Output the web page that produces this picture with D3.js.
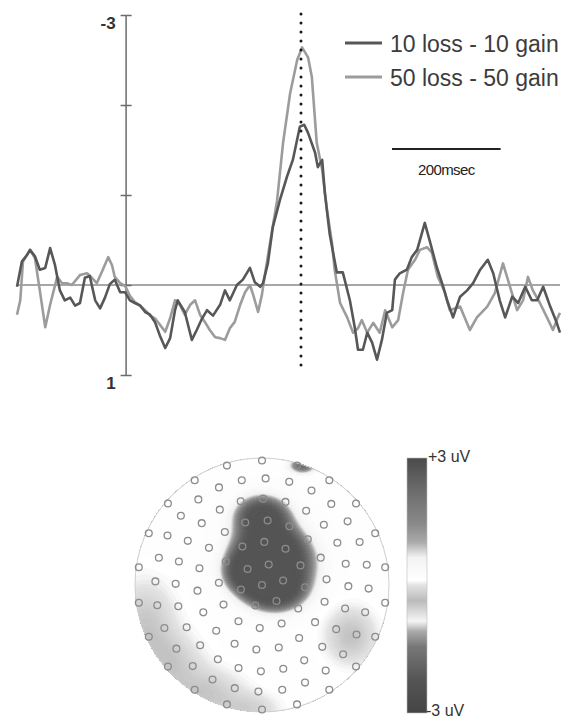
<!DOCTYPE html>
<html>
<head>
<meta charset="utf-8">
<script src="https://cdn.jsdelivr.net/npm/d3@7"></script>
<style>
  body { margin: 0; background: #fff; }
  svg { display: block; font-family: "Liberation Sans", Arial, sans-serif; }
</style>
</head>
<body>
<svg id="chart" width="581" height="720"></svg>
<script>
// ERP difference waves, [time ms, amplitude uV] (negative up)
var wave10 = [[-200,0.02],[-191,-0.26],[-182,-0.33],[-176,-0.39],[-167,-0.32],[-158,-0.17],[-148,-0.19],[-139,-0.41],[-130,-0.22],[-121,0.06],[-112,0.17],[-102,0.14],[-93,0.23],[-84,0.2],[-75,-0.08],[-66,-0.1],[-56,0.17],[-47,0.26],[-38,0.14],[-29,-0.01],[-20,-0.06],[-10,0.08],[-1,0.08],[8,0.17],[17,0.2],[27,0.23],[36,0.3],[45,0.33],[54,0.41],[63,0.56],[73,0.7],[82,0.59],[91,0.28],[96,0.17],[109,0.3],[122,0.61],[131,0.5],[141,0.37],[150,0.28],[161,0.34],[174,0.22],[183,0.06],[192,0.17],[205,0],[216,-0.06],[229,-0.19],[238,-0.03],[248,0.02],[253,-0.02],[262,-0.24],[271,-0.64],[284,-0.94],[297,-1.2],[308,-1.39],[321,-1.76],[329,-1.78],[336,-1.69],[349,-1.47],[354,-1.31],[362,-1.39],[367,-1.02],[376,-0.56],[389,-0.14],[400,-0.14],[413,0.17],[422,0.47],[428,0.72],[437,0.72],[445,0.53],[454,0.64],[463,0.83],[472,0.61],[481,0.31],[491,0.28],[496,-0.06],[505,-0.13],[518,-0.17],[527,-0.31],[537,-0.39],[551,-0.69],[561,-0.47],[573,-0.2],[585,0.02],[592,0.17],[603,0.36],[616,0.13],[629,0.06],[640,-0.02],[653,-0.17],[667,-0.28],[677,-0.13],[689,0.17],[699,0.36],[712,0.13],[723,0.2],[736,0.02],[748,0.17],[758,0.17],[769,0.02],[782,0.24],[794,0.42],[800,0.53]];
var wave50 = [[-200,0.33],[-194,0.17],[-189,-0.26],[-182,-0.33],[-176,-0.39],[-167,-0.3],[-158,0.06],[-148,0.47],[-139,0.22],[-126,-0.09],[-117,-0.02],[-108,-0.02],[-99,0],[-84,-0.11],[-71,-0.13],[-62,-0.08],[-53,-0.02],[-42,-0.17],[-32,-0.31],[-25,-0.22],[-20,-0.09],[-10,-0.02],[-1,0.01],[8,0.12],[17,0.19],[27,0.23],[36,0.28],[45,0.34],[54,0.37],[63,0.44],[73,0.52],[82,0.37],[91,0.17],[100,0.22],[109,0.33],[119,0.22],[128,0.17],[137,0.33],[146,0.41],[155,0.5],[165,0.58],[174,0.59],[183,0.61],[192,0.48],[201,0.41],[211,0.22],[220,0.08],[229,0],[235,0.11],[244,0.3],[251,0.11],[257,-0.13],[266,-0.47],[279,-0.94],[290,-1.58],[303,-2.13],[316,-2.5],[325,-2.64],[336,-2.53],[343,-2.31],[352,-1.58],[362,-1.28],[371,-0.83],[380,-0.47],[385,-0.17],[395,0.2],[408,0.36],[419,0.53],[428,0.48],[435,0.39],[445,0.53],[456,0.42],[468,0.53],[478,0.28],[491,0.47],[502,0.39],[511,0.09],[520,-0.17],[533,-0.28],[542,-0.39],[555,-0.42],[564,-0.36],[575,-0.09],[588,0.08],[597,0.28],[616,0.24],[634,0.5],[647,0.36],[666,0.24],[680,0.09],[695,-0.24],[708,0.02],[721,0.28],[732,0.17],[741,-0.09],[750,0.06],[763,0.2],[776,0.36],[787,0.5],[796,0.36],[800,0.31]];

var seriesNames = ["10 loss - 10 gain", "50 loss - 50 gain"];
var seriesColors = ["#575757", "#9c9c9c"];
var yTicks = [-3, -2, -1, 0, 1];
var yLabels = [-3, 1];
var markerTime = 323;
var scaleBarMs = 200;

// colour bar: fraction from top -> grey
var barStops = [0, 0.12, 0.26, 0.33, 0.39, 0.48, 0.5, 0.56, 0.64, 0.68, 0.74, 0.87, 1];
var barGreys = ["#4a4a4a", "#6a6a6a", "#8a8a8a", "#aaaaaa", "#f2f2f2", "#ffffff", "#e2e2e2", "#bbbbbb", "#f5f5f5", "#aaaaaa", "#777777", "#555555", "#444444"];
var barMax = 3;

// scalp field sources (head coords, radius 1; u right, v down)
var blobSources = [
  { u: 0.00, v: -0.55, sx: 0.20, sy: 0.15 },
  { u: 0.05, v: -0.30, sx: 0.25, sy: 0.20 },
  { u: 0.12, v: -0.15, sx: 0.28, sy: 0.22 },
  { u: 0.10, v: 0.05, sx: 0.22, sy: 0.15 },
  { u: -0.10, v: -0.10, sx: 0.18, sy: 0.15 }
];
var patchSources = [
  { u: 0.32, v: -0.94, sx: 0.09, sy: 0.05, amp: 2.0 }
];
var rimSources = [
  { u: -0.92, v: 0.30, sx: 0.22, sy: 0.30, amp: -0.4 },
  { u: -0.75, v: 0.62, sx: 0.25, sy: 0.22, amp: -0.4 },
  { u: -0.45, v: 0.86, sx: 0.28, sy: 0.18, amp: -0.4 },
  { u: -0.10, v: 0.98, sx: 0.22, sy: 0.12, amp: -0.3 },
  { u: 0.70, v: 0.40, sx: 0.18, sy: 0.20, amp: -0.45 }
];
var fieldBase = 0.1;

// electrode rings
var ringRadius = [0, 0.17, 0.34, 0.51, 0.68, 0.84, 0.98];
var ringCount = [1, 6, 12, 18, 24, 28, 22];
var ringPhase = [0, 0.3, 0.1, 0.25, 0.05, 0.15, 0.0];

var svg = d3.select("#chart");
svg.append("rect").attr("width", 581).attr("height", 720).attr("fill", "#fff");

var x = d3.scaleLinear().domain([-200, 800]).range([17, 560]);
var y = d3.scaleLinear().domain([-3, 1]).range([15, 375]);

// zero line
svg.append("line")
    .attr("x1", x(-200)).attr("x2", x(800))
    .attr("y1", y(0)).attr("y2", y(0))
    .attr("stroke", "#8a8a8a").attr("stroke-width", 1.5);

// y axis at t = 0
var yAxis = svg.append("g")
    .attr("transform", "translate(" + x(0) + ",0)")
    .call(d3.axisLeft(y).tickValues(yTicks).tickSize(5).tickSizeOuter(0)
        .tickFormat(function (d) { return yLabels.indexOf(d) >= 0 ? d : ""; }));
yAxis.select(".domain").attr("stroke", "#6a6a6a").attr("stroke-width", 1.5);
yAxis.selectAll(".tick line").attr("x1", 6).attr("stroke", "#6a6a6a").attr("stroke-width", 1.5);
yAxis.selectAll(".tick text")
    .attr("x", -10).attr("y", 8)
    .attr("font-size", 17).attr("font-weight", "bold")
    .attr("font-family", "'Liberation Sans', Arial, sans-serif")
    .attr("fill", "#333");

// waves
var line = d3.line()
    .x(function (d) { return x(d[0]); })
    .y(function (d) { return y(d[1]); });

[wave50, wave10].forEach(function (w, i) {
    svg.append("path")
        .datum(w)
        .attr("d", line)
        .attr("fill", "none")
        .attr("stroke", seriesColors[1 - i])
        .attr("stroke-width", 2.6)
        .attr("stroke-linejoin", "round");
});

// dotted marker
svg.append("line")
    .attr("x1", x(markerTime)).attr("x2", x(markerTime))
    .attr("y1", 14).attr("y2", 372)
    .attr("stroke", "#1a1a1a").attr("stroke-width", 3)
    .attr("stroke-linecap", "round")
    .attr("stroke-dasharray", "0.1,8.9");

// legend
var legend = svg.append("g").attr("transform", "translate(345,43)");
seriesNames.forEach(function (name, i) {
    var g = legend.append("g").attr("transform", "translate(0," + (i * 34) + ")");
    g.append("line").attr("x1", 0).attr("x2", 37)
        .attr("stroke", seriesColors[i]).attr("stroke-width", 3);
    g.append("text").attr("x", 45).attr("y", 9)
        .attr("font-size", 23).attr("fill", "#3c3c3c")
        .text(name);
});

// time scale bar
var barX0 = 392;
svg.append("line")
    .attr("x1", barX0).attr("x2", barX0 + x(scaleBarMs) - x(0))
    .attr("y1", 149).attr("y2", 149)
    .attr("stroke", "#222").attr("stroke-width", 2);
svg.append("text")
    .attr("x", barX0 + (x(scaleBarMs) - x(0)) / 2).attr("y", 175)
    .attr("text-anchor", "middle")
    .attr("font-size", 15).attr("letter-spacing", -0.6).attr("fill", "#222")
    .text(scaleBarMs + "msec");

// ---- topographic map ----
var cx = 262, cy = 585, R = 127;
var grey = d3.scaleLinear()
    .domain(barStops.map(function (f) { return barMax - 2 * barMax * f; }))
    .range(barGreys)
    .clamp(true);

function g2(s, u, v) {
    return Math.pow((u - s.u) / s.sx, 2) + Math.pow((v - s.v) / s.sy, 2);
}
function fieldAt(u, v) {
    var S = 0;
    blobSources.forEach(function (s) { S += Math.exp(-g2(s, u, v)); });
    var pos = barMax * 0.9 / (1 + Math.exp(-(S - 0.5) * 7));
    patchSources.forEach(function (s) {
        pos = Math.max(pos, s.amp * Math.exp(-g2(s, u, v)));
    });
    var neg = 0;
    rimSources.forEach(function (s) { neg += s.amp * Math.exp(-g2(s, u, v)); });
    neg = Math.max(neg, -0.45);
    return fieldBase + pos + neg;
}

var n = 150;
var values = new Array(n * n);
for (var j = 0; j < n; j++) {
    for (var i = 0; i < n; i++) {
        values[j * n + i] = fieldAt((i + 0.5) / n * 2 - 1, (j + 0.5) / n * 2 - 1);
    }
}
var levels = d3.range(-3.2, 3.01, 0.03);
var contours = d3.contours().size([n, n]).thresholds(levels)(values);
var proj = d3.geoIdentity().scale(2 * R / n).translate([cx - R, cy - R]);
var geo = d3.geoPath(proj);

var defs = svg.append("defs");
defs.append("clipPath").attr("id", "head")
    .append("circle").attr("cx", cx).attr("cy", cy).attr("r", R);

var map = svg.append("g").attr("clip-path", "url(#head)");
map.selectAll("path")
    .data(contours)
    .join("path")
    .attr("d", geo)
    .attr("fill", function (d) { return grey(d.value); })
    .attr("stroke", function (d) { return grey(d.value); })
    .attr("stroke-width", 0.4);

svg.append("circle")
    .attr("cx", cx).attr("cy", cy).attr("r", R)
    .attr("fill", "none").attr("stroke", "#d0d0d0").attr("stroke-width", 1);

// electrodes
var electrodes = [];
ringRadius.forEach(function (rr, k) {
    for (var e = 0; e < ringCount[k]; e++) {
        var a = (e + ringPhase[k]) / ringCount[k] * 2 * Math.PI;
        electrodes.push([cx + rr * R * Math.sin(a), cy - rr * R * Math.cos(a)]);
    }
});
svg.append("g").selectAll("circle")
    .data(electrodes)
    .join("circle")
    .attr("cx", function (d) { return d[0]; })
    .attr("cy", function (d) { return d[1]; })
    .attr("r", 3.4)
    .attr("fill", "none")
    .attr("stroke", "#8c8c8c")
    .attr("stroke-width", 1.3);

// colour bar
var bx = 407, by = 458, bw = 20, bh = 255;
var grad = defs.append("linearGradient").attr("id", "bar")
    .attr("x1", 0).attr("x2", 0).attr("y1", 0).attr("y2", 1);
grad.selectAll("stop")
    .data(barStops)
    .join("stop")
    .attr("offset", function (d) { return d; })
    .attr("stop-color", function (d, i) { return barGreys[i]; });
svg.append("rect")
    .attr("x", bx).attr("y", by).attr("width", bw).attr("height", bh)
    .attr("fill", "url(#bar)")
    .attr("stroke", "#bbb").attr("stroke-width", 0.6);

svg.append("text").attr("x", 428).attr("y", 462)
    .attr("font-size", 16).attr("fill", "#333").text("+3 uV");
svg.append("text").attr("x", 426).attr("y", 716)
    .attr("font-size", 16).attr("fill", "#333").text("-3 uV");
</script>
</body>
</html>
